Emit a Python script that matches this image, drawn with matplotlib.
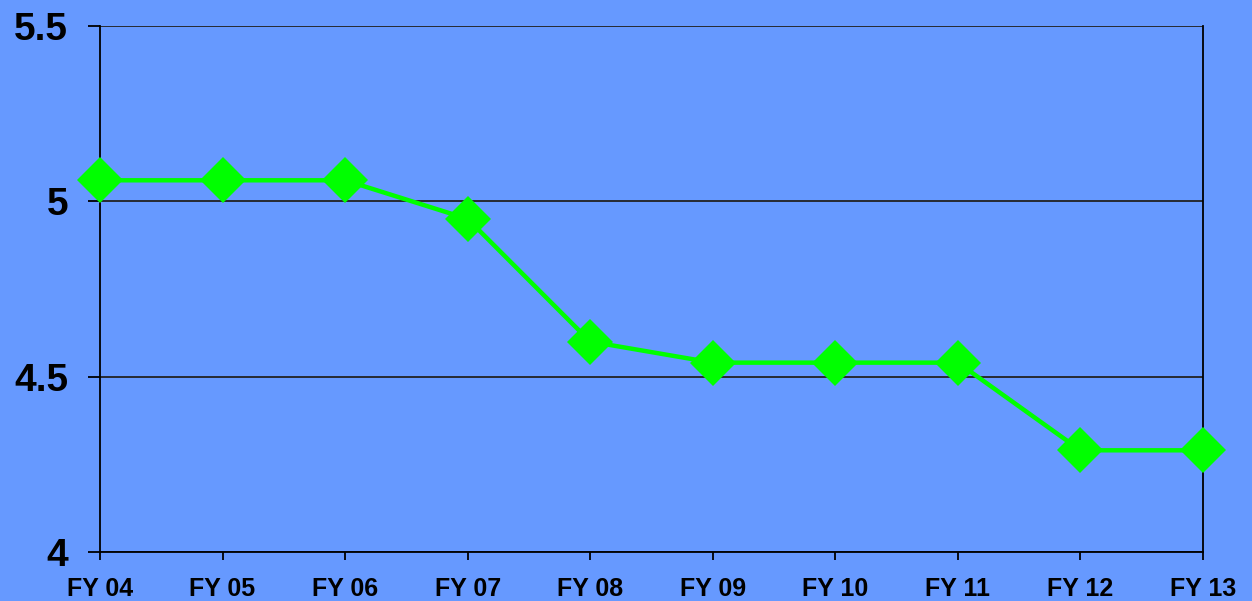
import matplotlib.pyplot as plt

years = ['FY 04', 'FY 05', 'FY 06', 'FY 07', 'FY 08', 'FY 09', 'FY 10', 'FY 11', 'FY 12', 'FY 13']
values = [5.06, 5.06, 5.06, 4.95, 4.60, 4.54, 4.54, 4.54, 4.29, 4.29]

bg = '#6699FF'
plt.rcParams['font.family'] = ['Liberation Sans', 'DejaVu Sans']

fig = plt.figure(figsize=(12.52, 6.01), dpi=100, facecolor=bg)
ax = fig.add_axes([100 / 1252, 1 - 552 / 601, 1103 / 1252, 526 / 601])
ax.set_facecolor(bg)

x = list(range(len(years)))
ax.plot(x, values, color='#00FF00', lw=3.2, marker='D', ms=23,
        markeredgewidth=0, clip_on=False, zorder=3)

ax.set_xlim(0, len(years) - 1)
ax.set_ylim(4, 5.5)
ax.set_yticks([4, 4.5, 5, 5.5])
ax.set_yticklabels(['4', '4.5', '5', '5.5'], fontsize=28, fontweight='bold')
ax.set_xticks(x)
ax.set_xticklabels(years, fontsize=18, fontweight='bold')
ax.grid(axis='y', color='#222222', lw=1.3)
ax.set_axisbelow(True)

for s in ax.spines.values():
    s.set_color('black')
    s.set_linewidth(1.3)
ax.spines['top'].set_visible(False)
ax.tick_params(axis='y', length=9, width=1.3, pad=14)
ax.tick_params(axis='x', length=6, width=1.3, pad=12)

fig.savefig('out.png', dpi=100, facecolor=bg)
